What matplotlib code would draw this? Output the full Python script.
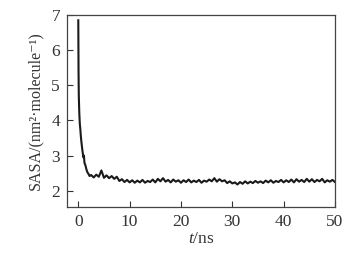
import numpy as np
import matplotlib.pyplot as plt

plt.rcParams['font.family'] = ['Liberation Serif', 'DejaVu Serif']
plt.rcParams['mathtext.fontset'] = 'custom'
plt.rcParams['mathtext.rm'] = 'Liberation Serif'
plt.rcParams['mathtext.it'] = 'Liberation Serif:italic'

# early decay (t in ns, SASA)
t_decay = [0, 0.05, 0.1, 0.2, 0.3, 0.4, 0.5, 0.6, 0.8, 1.0, 1.1, 1.2, 1.4, 1.6, 1.8, 2.0, 2.2]
sasa_decay = [6.85, 5.4, 4.7, 4.2, 3.9, 3.75, 3.55, 3.4, 3.15, 2.95, 3.0, 2.8, 2.72, 2.6, 2.52, 2.48, 2.42]

# plateau, sampled every 0.5 ns from 2.5 to 50 ns
t_plateau = np.linspace(2.5, 50, 96)
sasa_plateau = [
    2.45, 2.38, 2.46, 2.40, 2.58, 2.37, 2.44, 2.36, 2.42, 2.34, 2.40, 2.28,
    2.33, 2.25, 2.31, 2.24, 2.30, 2.23, 2.29, 2.24, 2.31, 2.23, 2.28, 2.25, 2.32, 2.24,
    2.34, 2.27, 2.36, 2.26, 2.31, 2.24, 2.32, 2.26, 2.30, 2.23,
    2.30, 2.25, 2.32, 2.24, 2.29, 2.25, 2.31, 2.23, 2.29, 2.26,
    2.32, 2.27, 2.36, 2.26, 2.33, 2.27, 2.30, 2.22, 2.27, 2.21,
    2.24, 2.18, 2.25, 2.20, 2.27, 2.21, 2.26, 2.22, 2.28, 2.23,
    2.27, 2.22, 2.29, 2.24, 2.30, 2.23, 2.28, 2.25, 2.31, 2.24,
    2.30, 2.25, 2.32, 2.24, 2.33, 2.26, 2.31, 2.25, 2.34, 2.26,
    2.33, 2.25, 2.31, 2.27, 2.34, 2.24, 2.30, 2.26, 2.31, 2.25,
]

t = np.concatenate([t_decay, t_plateau])
sasa = np.concatenate([sasa_decay, sasa_plateau])

fig = plt.figure(figsize=(3.59, 2.57), dpi=100)
ax = fig.add_axes([0.1866, 0.1946, 0.7465, 0.747])
ax.plot(t, sasa, color='#1a1a1a', lw=1.5)

ax.set_xlim(-2.2, 50)
ax.set_ylim(1.54, 7)
ax.set_xticks([0, 10, 20, 30, 40, 50])
ax.set_yticks([2, 3, 4, 5, 6, 7])
ax.tick_params(direction='in', length=4, width=0.8, labelsize=12.5,
               colors='#333333', top=False, right=False, pad=5)
for s in ax.spines.values():
    s.set_color('#444444')
    s.set_linewidth(0.9)

ax.set_xlabel('$t$/ns', fontsize=12.5, color='#333333', labelpad=1)
ax.set_ylabel('SASA/(nm²·molecule⁻¹)', fontsize=11.5, color='#333333', labelpad=6)

fig.savefig('out.png', dpi=100)
